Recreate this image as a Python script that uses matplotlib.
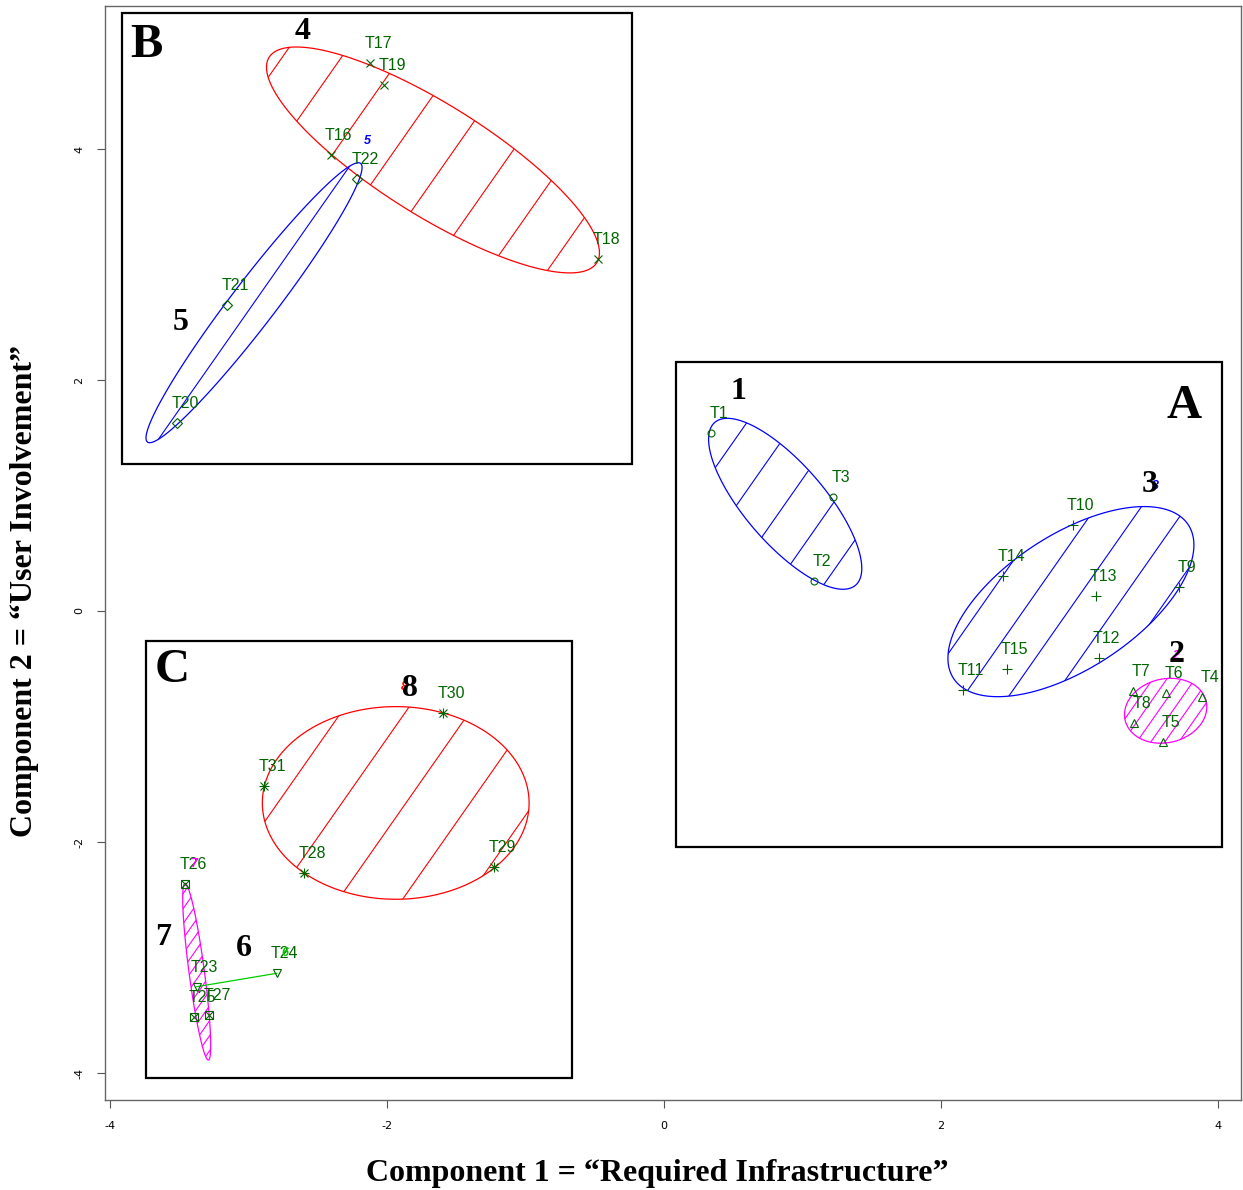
import numpy as np
import matplotlib
matplotlib.use("Agg")
import matplotlib.pyplot as plt
from matplotlib.collections import LineCollection
from matplotlib.patches import Polygon, Rectangle

plt.rcParams["axes.unicode_minus"] = False

# tasks projected on the first two components
task = ["T1", "T2", "T3", "T4", "T5", "T6", "T7", "T8", "T9", "T10",
        "T11", "T12", "T13", "T14", "T15", "T16", "T17", "T18", "T19", "T20",
        "T21", "T22", "T23", "T24", "T25", "T26", "T27", "T28", "T29", "T30", "T31"]
comp1 = [0.339, 1.083, 1.217, 3.885, 3.602, 3.622, 3.388, 3.396, 3.718, 2.950,
         2.158, 3.138, 3.117, 2.447, 2.475, -2.407, -2.123, -0.477, -2.022, -3.514,
         -3.155, -2.217, -3.374, -2.796, -3.394, -3.458, -3.285, -2.597, -1.225, -1.593, -2.886]
comp2 = [1.544, 0.260, 0.990, -0.742, -1.137, -0.707, -0.693, -0.967, 0.211, 0.745,
         -0.684, -0.404, 0.130, 0.303, -0.499, 3.951, 4.742, 3.045, 4.552, 1.625,
         2.652, 3.740, -3.253, -3.137, -3.518, -2.367, -3.498, -2.271, -2.219, -0.880, -1.512]
cluster = [1, 1, 1, 2, 2, 2, 2, 2, 3, 3,
           3, 3, 3, 3, 3, 4, 4, 4, 4, 5,
           5, 5, 6, 6, 7, 7, 7, 8, 8, 8, 8]

# cluster ellipses (cluster 6 has two points only -> segment)
ell_id = [1, 2, 3, 4, 5, 7, 8]
ell_cx = [0.875, 3.622, 2.938, -1.668, -2.960, -3.374, -1.937]
ell_cy = [0.928, -0.864, 0.081, 3.905, 2.669, -3.123, -1.662]
ell_hx = [0.553, 0.297, 0.888, 1.202, 0.780, 0.101, 0.963]   # half extent along x
ell_hy = [0.740, 0.281, 0.823, 0.978, 1.212, 0.765, 0.834]   # half extent along y
ell_cov = [-0.309, 0.010, 0.435, -0.965, 0.913, -0.0643, 0.0]

# cluster ids written on the plot
num_text = ["1", "2", "3", "4", "5", "6", "7", "8"]
num_x = [0.534, 3.704, 3.509, -2.606, -3.487, -3.032, -3.617, -1.834]
num_y = [1.896, -0.381, 1.091, 5.013, 2.502, -2.918, -2.831, -0.667]
panel_text = ["A", "B", "C"]
panel_x = [3.755, -3.740, -3.552]
panel_y = [1.775, 4.900, -0.511]

PT_COL = "#006400"
CLUS_COL = {1: "blue", 2: "magenta", 3: "blue", 4: "red", 5: "blue",
            6: "#00CD00", 7: "magenta", 8: "red"}
MARK = {1: ["o"], 2: ["^"], 3: ["+"], 4: ["x"], 5: ["D"], 6: ["v"],
        7: ["s", "x"], 8: ["+", "x"]}
MSIZE = {"o": 5, "^": 6, "+": 7, "x": 6, "D": 5, "v": 6, "s": 5.5}
# hatch spacing (px) and phase per ellipse
HATCH = {1: (39, 0.0), 2: (11.5, 0.5), 3: (37, -0.09), 4: (48.5, 0.76),
         5: (40, 0.0), 7: (8.6, 0.5), 8: (52.5, 0.84)}


def ellipse_verts(cx, cy, hx, hy, cov, n=200):
    m = np.array([[hx ** 2, cov], [cov, hy ** 2]])
    L = np.linalg.cholesky(m)
    t = np.linspace(0, 2 * np.pi, n)
    pts = L @ np.vstack([np.cos(t), np.sin(t)])
    return np.column_stack([cx + pts[0], cy + pts[1]])


def hatch(ax, poly, centre, spacing, phase, color, angle=55):
    tr = ax.transData
    c = tr.transform(centre)
    a = np.deg2rad(angle)
    u = np.array([np.cos(a), np.sin(a)])
    nv = np.array([-np.sin(a), np.cos(a)])
    segs = []
    for k in range(-60, 61):
        o = c + (k + phase) * spacing * nv
        segs.append(tr.inverted().transform(np.array([o - 700 * u, o + 700 * u])))
    lc = LineCollection(segs, colors=color, linewidths=0.8)
    ax.add_collection(lc, autolim=False)
    lc.set_clip_path(poly)


fig = plt.figure(figsize=(12.43, 11.90), dpi=100)
ax = fig.add_axes([105 / 1243, 1 - 1100 / 1190, (1241 - 105) / 1243, (1100 - 6) / 1190])
ax.set_xlim(-4.036, 4.166)
ax.set_ylim(-4.234, 5.238)

# ellipses with line shading
for i, cid in enumerate(ell_id):
    v = ellipse_verts(ell_cx[i], ell_cy[i], ell_hx[i], ell_hy[i], ell_cov[i])
    poly = Polygon(v, closed=True, fill=False, edgecolor=CLUS_COL[cid], lw=0.9)
    ax.add_patch(poly)
    sp, ph = HATCH[cid]
    hatch(ax, poly, (ell_cx[i], ell_cy[i]), sp, ph, CLUS_COL[cid])

# two-point cluster 6 drawn as a segment
seg = [i for i, c in enumerate(cluster) if c == 6]
ax.plot([comp1[i] for i in seg], [comp2[i] for i in seg], color=CLUS_COL[6], lw=0.9)

# points + labels
for i, lab in enumerate(task):
    for m in MARK[cluster[i]]:
        ax.plot(comp1[i], comp2[i], marker=m, ms=MSIZE[m], mfc="none",
                mec=PT_COL, mew=0.8, ls="none")
    ax.annotate(lab, (comp1[i], comp2[i]), xytext=(5.8, 14), textcoords="offset points",
                ha="center", va="center", color=PT_COL, fontsize=11.5,
                family="Liberation Sans")

# small cluster tags from clusplot
tag_txt = ["5", "7", "6", "8", "2", "3"]
tag_x = [-2.144, -3.394, -2.736, -1.877, 3.697, 3.545]
tag_y = [4.069, -2.190, -2.961, -0.658, -0.390, 1.082]
tag_c = ["blue", "magenta", "#00CD00", "red", "magenta", "blue"]
for t, x, y, c in zip(tag_txt, tag_x, tag_y, tag_c):
    ax.text(x, y, t, color=c, fontsize=9, fontweight="bold", style="italic",
            ha="center", va="center", family="Liberation Sans")

# panel boxes
boxes = [(0.087, -2.043, 4.029, 2.156), (-3.913, 1.273, -0.231, 5.177),
         (-3.740, -4.043, -0.664, -0.260)]
for x0, y0, x1, y1 in boxes:
    ax.add_patch(Rectangle((x0, y0), x1 - x0, y1 - y0, fill=False,
                           edgecolor="black", lw=1.6, zorder=5))

for t, x, y in zip(num_text, num_x, num_y):
    ax.text(x, y, t, fontsize=23, fontweight="bold", family="Liberation Serif",
            ha="center", va="center", zorder=6)
for t, x, y in zip(panel_text, panel_x, panel_y):
    ax.text(x, y, t, fontsize=35, fontweight="bold", family="Liberation Serif",
            ha="center", va="center", zorder=6)

ax.set_xticks([-4, -2, 0, 2, 4])
ax.set_yticks([-4, -2, 0, 2, 4])
ax.tick_params(direction="out", length=6, width=0.8, color="#555555",
               labelsize=8, pad=9)
for lbl in ax.get_yticklabels():
    lbl.set_rotation(90)
    lbl.set_va("center")
for sp in ax.spines.values():
    sp.set_color("#666666")
    sp.set_linewidth(1.0)

fig.text(657 / 1243, 1 - 1173 / 1190, "Component 1 = \u201cRequired Infrastructure\u201d",
         ha="center", va="center", fontsize=23, fontweight="bold", family="Liberation Serif")
fig.text(25 / 1243, 1 - 591 / 1190, "Component 2 = \u201cUser Involvement\u201d",
         ha="center", va="center", rotation=90, fontsize=23, fontweight="bold",
         family="Liberation Serif")

fig.savefig("out.png", dpi=100)
